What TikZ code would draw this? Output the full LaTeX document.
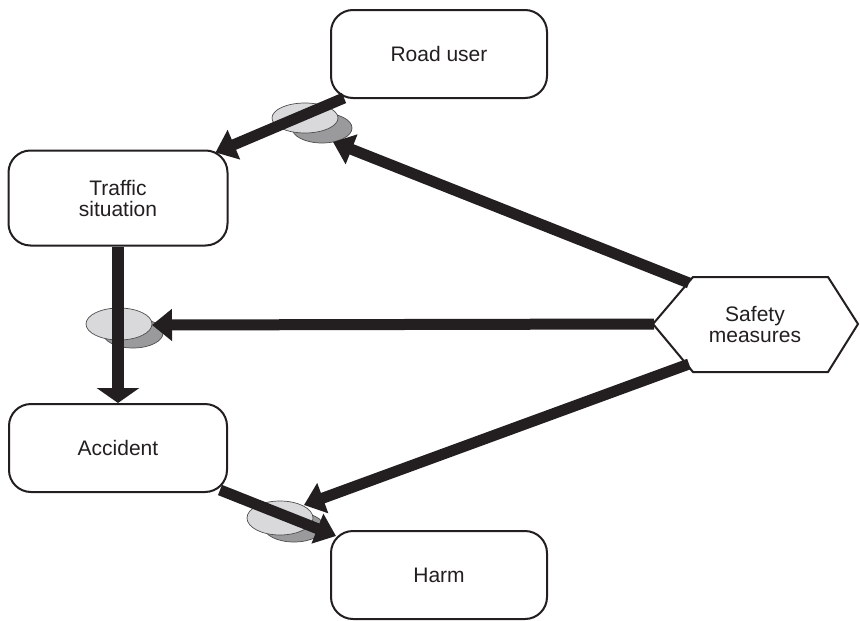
\documentclass[tikz,border=0pt]{standalone}
\usepackage{fontspec}
\setmainfont{Liberation Sans}
\usetikzlibrary{arrows.meta,calc}
\definecolor{ink}{HTML}{231F20}
\definecolor{lightdisk}{HTML}{D9D9DC}
\definecolor{darkdisk}{HTML}{9A9A9C}
\begin{document}
\begin{tikzpicture}[x=1pt,y=-1pt,
  box/.style={draw=ink,line width=2pt,rounded corners=22pt,fill=white,
    minimum width=216pt,minimum height=88pt,align=center,text=ink,
    font=\fontsize{21}{21}\selectfont},
  flow/.style={draw=ink,line width=11pt,-{Triangle[length=20pt,width=31pt]}},
  flowflat/.style={draw=ink,line width=12pt,-{Triangle[length=15pt,width=42pt]}},
  disklight/.style={fill=lightdisk,draw=ink!80,line width=0.7pt},
  diskdark/.style={fill=darkdisk,draw=ink!80,line width=0.7pt}]
\useasboundingbox (0,0) rectangle (860,621);
% valve disks
\filldraw[diskdark] (322,128) ellipse [x radius=30, y radius=15];
\filldraw[disklight] (305,118) ellipse [x radius=33, y radius=15];
\filldraw[diskdark] (133,333) ellipse [x radius=30, y radius=15];
\filldraw[disklight] (119,324) ellipse [x radius=33, y radius=16];
\filldraw[diskdark] (294,527) ellipse [x radius=30, y radius=15];
\filldraw[disklight] (280,518) ellipse [x radius=33, y radius=17];
% nodes
\node[box] (ru) at (439,54) {Road user};
\node[box,minimum width=219pt,minimum height=95pt] (ts) at (118,198) {Traffic\\situation};
\node[box,minimum width=218pt] (acc) at (118,448) {Accident};
\node[box] (harm) at (439,575) {Harm};
\node[text=ink,align=center,font=\fontsize{21}{21}\selectfont] (sm) at (755,325) {Safety\\measures};
\draw[ink,line width=2pt,line join=miter]
  (653,324) -- (693,277) -- (828,277) -- (858,324) -- (828,372) -- (693,372) -- cycle;
\coordinate (smT) at (689,283);
\coordinate (smL) at (654,324);
\coordinate (smB) at (689,364);
\coordinate (v1) at (333,142);
\coordinate (v2) at (152,325);
\coordinate (v3) at (304,505);
% main chain
\draw[flow] ($(ru.south west)+(14,-1)$) -- ($(ts.north east)+(-13,3)$);
\draw[flowflat] (ts.south) -- (acc.north);
\draw[flow] ($(acc.south east)+(-8,-3)$) -- ($(harm.north west)+(6,6)$);
% safety measures
\draw[flow] (smT) -- (v1);
\draw[flow] (smL) -- (v2);
\draw[flow] (smB) -- (v3);
\end{tikzpicture}
\end{document}
